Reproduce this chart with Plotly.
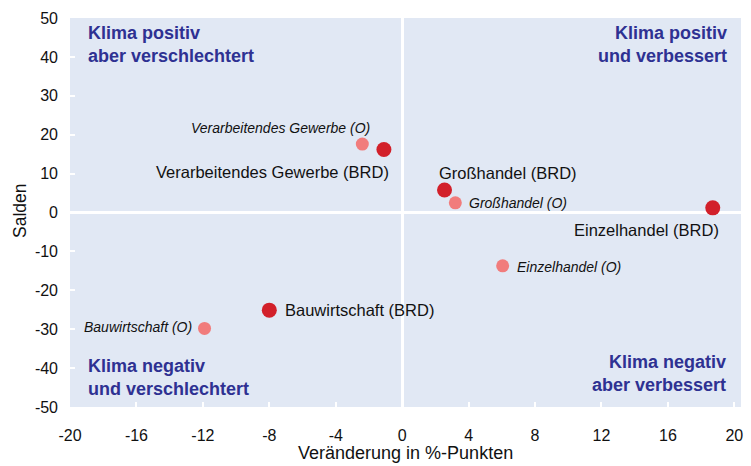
import plotly.graph_objects as go

# Data
brd_names = ["Verarbeitendes Gewerbe (BRD)", "Großhandel (BRD)", "Einzelhandel (BRD)", "Bauwirtschaft (BRD)"]
brd_x = [-1.1, 2.55, 18.7, -8.0]
brd_y = [16.2, 5.8, 1.2, -25.1]

ost_names = ["Verarbeitendes Gewerbe (O)", "Großhandel (O)", "Einzelhandel (O)", "Bauwirtschaft (O)"]
ost_x = [-2.4, 3.2, 6.05, -11.9]
ost_y = [17.6, 2.5, -13.7, -29.8]

x_ticks = [-20, -16, -12, -8, -4, 0, 4, 8, 12, 16, 20]
y_ticks = [-50, -40, -30, -20, -10, 0, 10, 20, 30, 40, 50]
x_ticktext = [str(v) for v in x_ticks]
y_ticktext = [str(v) for v in y_ticks]

x_title = "Veränderung in %-Punkten"
y_title = "Salden"

quad_labels = ["Klima positiv<br>aber verschlechtert", "Klima positiv<br>und verbessert",
               "Klima negativ<br>und verschlechtert", "Klima negativ<br>aber verbessert"]

DARK = "#D2202A"
PINK = "#F17C7C"
BLUE = "#2E3192"
BG = "#E1E8F4"
FONT = "Liberation Sans, Arial, sans-serif"

fig = go.Figure()
fig.add_trace(go.Scatter(x=ost_x, y=ost_y, mode="markers",
                         marker=dict(color=PINK, size=13, line=dict(width=0)),
                         hoverinfo="text", text=ost_names, showlegend=False))
fig.add_trace(go.Scatter(x=brd_x, y=brd_y, mode="markers",
                         marker=dict(color=DARK, size=15, line=dict(width=0)),
                         hoverinfo="text", text=brd_names, showlegend=False))

# Point labels (anchored at data points with pixel offsets)
brd_offsets = [  # (xanchor, xshift, yshift)
    ("right", 7, -23),
    ("left", -8, 17),
    ("right", 8, -22),
    ("left", 14, 0),
]
for n, x, y, (xa, xs, ys) in zip(brd_names, brd_x, brd_y, brd_offsets):
    fig.add_annotation(x=x, y=y, xref="x", yref="y", text=n, showarrow=False,
                       xanchor=xa, yanchor="middle", xshift=xs, yshift=ys,
                       font=dict(family=FONT, size=16.5, color="#111111"))

ost_offsets = [
    ("right", 10, 16),
    ("left", 12, 0),
    ("left", 12, -1),
    ("right", -11, 1),
]
for n, x, y, (xa, xs, ys) in zip(ost_names, ost_x, ost_y, ost_offsets):
    fig.add_annotation(x=x, y=y, xref="x", yref="y", text="<i>" + n + "</i>", showarrow=False,
                       xanchor=xa, yanchor="middle", xshift=xs, yshift=ys,
                       font=dict(family=FONT, size=14, color="#111111"))

# Quadrant labels
quad_pos = [(0.024, 0.931, "left"), (0.982, 0.931, "right"),
            (0.024, 0.076, "left"), (0.980, 0.087, "right")]
for t, (px, py, xa) in zip(quad_labels, quad_pos):
    fig.add_annotation(x=px, y=py, xref="paper", yref="paper", text="<b>" + t + "</b>",
                       showarrow=False, xanchor=xa, yanchor="middle", align=xa,
                       font=dict(family=FONT, size=18, color=BLUE))

# Axis titles
fig.add_annotation(x=0.4993, y=-0.118, xref="paper", yref="paper", text=x_title,
                   showarrow=False, xanchor="center", yanchor="middle",
                   font=dict(family=FONT, size=18, color="#111111"))
fig.add_annotation(x=-0.0745, y=0.504, xref="paper", yref="paper", text=y_title,
                   showarrow=False, xanchor="center", yanchor="middle", textangle=-90,
                   font=dict(family=FONT, size=17.5, color="#111111"))

fig.update_layout(
    width=751, height=466,
    margin=dict(l=70, r=10, t=18, b=59),
    plot_bgcolor=BG, paper_bgcolor="white",
    font=dict(family=FONT, size=16, color="#111111"),
    xaxis=dict(range=[-20, 20.4], tickvals=x_ticks, ticktext=x_ticktext, showgrid=False,
               zeroline=True, zerolinecolor="white", zerolinewidth=3,
               ticks="inside", tickcolor="white", ticklen=5, tickwidth=2,
               showline=False, automargin=False, ticklabelstandoff=17,
               tickfont=dict(size=16)),
    yaxis=dict(range=[-50, 50], tickvals=y_ticks, ticktext=y_ticktext, showgrid=False,
               zeroline=True, zerolinecolor="white", zerolinewidth=3,
               ticks="inside", tickcolor="white", ticklen=5, tickwidth=2,
               showline=False, automargin=False, ticklabelstandoff=11,
               tickfont=dict(size=16)),
)

fig.write_html("out.html", config={"displayModeBar": False},
               post_script="document.body.style.margin='0';")
